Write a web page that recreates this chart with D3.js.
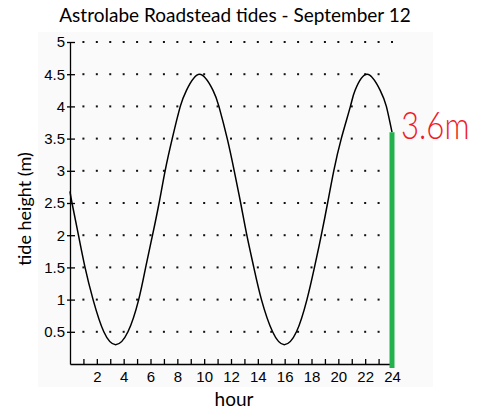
<!DOCTYPE html>
<html>
<head>
<meta charset="utf-8">
<script src="https://cdn.jsdelivr.net/npm/d3@7"></script>
<style>
  body { margin: 0; background: #fff; }
  svg { display: block; }
</style>
</head>
<body>
<div id="chart"></div>
<script>
// tide readings taken off the curve (hour, metres)
const hours = [0, 0.15, 0.63, 1.12, 1.72, 2.52, 3.4, 4.32, 5.12, 5.64, 6.15, 6.64, 7.09, 7.62, 8.22, 8.68, 9.65,
  10.66, 11.1, 11.72, 12.24, 12.72, 13.18, 13.7, 14.27, 15.1, 15.97, 16.88, 17.66, 18.22, 18.73,
  19.2, 19.66, 20.22, 20.9, 21.25, 22.14, 23.12, 23.58, 24];
const heights = [2.68, 2.5, 2.0, 1.5, 1.0, 0.5, 0.3, 0.5, 1.0, 1.5, 2.0, 2.5, 3.0, 3.5, 4.0, 4.25, 4.5,
  4.25, 4.0, 3.5, 3.0, 2.5, 2.0, 1.5, 1.0, 0.5, 0.3, 0.5, 1.0, 1.5, 2.0,
  2.5, 3.0, 3.5, 4.0, 4.25, 4.5, 4.25, 4.0, 3.6];
const xTicks = d3.range(1, 25);
const yTicks = [0.5, 1, 1.5, 2, 2.5, 3, 3.5, 4, 4.5, 5];
const endHeight = 3.6;
const endLabel = "3.6m";

const width = 477, height = 418;
const plotLeft = 70, plotRight = 392, plotTop = 42, plotBottom = 364;

const svg = d3.select("#chart").append("svg")
  .attr("width", width)
  .attr("height", height);

const x = d3.scaleLinear().domain([0, 24]).range([plotLeft, plotRight]);
const y = d3.scaleLinear().domain([0, 5]).range([plotBottom, plotTop]);

// faint backdrop of the original plot image
svg.append("rect")
  .attr("x", 38).attr("y", 32)
  .attr("width", 395).attr("height", 355)
  .attr("fill", "#fafafa");

svg.append("text")
  .attr("x", 235).attr("y", 22)
  .attr("text-anchor", "middle")
  .style("font-family", "Lato, 'Open Sans', sans-serif")
  .style("font-size", "19px")
  .text("Astrolabe Roadstead tides - September 12");

// dotted grid
const dots = [];
yTicks.forEach(v => {
  xTicks.forEach(h => {
    if (h < 24 || v === 5) dots.push([h, v]);
  });
});
svg.append("g")
  .selectAll("rect")
  .data(dots)
  .join("rect")
  .attr("x", d => x(d[0]) - 1)
  .attr("y", d => y(d[1]) - 1)
  .attr("width", 2)
  .attr("height", 2)
  .attr("fill", "#111");

// axes
const yAxis = d3.axisLeft(y)
  .tickValues(yTicks)
  .tickSize(-5)
  .tickSizeOuter(0)
  .tickPadding(5)
  .tickFormat(d3.format(""));

svg.append("g")
  .attr("transform", `translate(${plotLeft},0)`)
  .call(yAxis)
  .call(g => g.select(".domain").attr("stroke-width", 1.3))
  .call(g => g.selectAll(".tick line").attr("x1", -3).attr("stroke-width", 1.3))
  .call(g => g.selectAll("text").style("font-family", "'Liberation Sans', Arial, sans-serif").style("font-size", "15px").attr("fill", "#000"));

const xAxis = d3.axisBottom(x)
  .tickValues(xTicks)
  .tickSize(-5)
  .tickSizeOuter(0)
  .tickPadding(7)
  .tickFormat(d => d % 2 === 0 ? d : "");

svg.append("g")
  .attr("transform", `translate(0,${plotBottom})`)
  .call(xAxis)
  .call(g => g.select(".domain").attr("stroke-width", 1.3))
  .call(g => g.selectAll(".tick line").attr("stroke-width", 1.3))
  .call(g => g.selectAll("text").style("font-family", "'Liberation Sans', Arial, sans-serif").style("font-size", "15px").attr("fill", "#000"));

// axis titles
svg.append("text")
  .attr("transform", `translate(31,209) rotate(-90)`)
  .attr("text-anchor", "middle")
  .style("font-family", "Lato, 'Open Sans', sans-serif")
  .style("font-size", "18px")
  .text("tide height (m)");

svg.append("text")
  .attr("x", 234).attr("y", 406)
  .attr("text-anchor", "middle")
  .style("font-family", "Lato, 'Open Sans', sans-serif")
  .style("font-size", "19px")
  .text("hour");

// tide curve
const tide = hours.map((h, i) => [h, heights[i]]);
const line = d3.line()
  .x(d => x(d[0]))
  .y(d => y(d[1]))
  .curve(d3.curveNatural);

svg.append("path")
  .datum(tide)
  .attr("fill", "none")
  .attr("stroke", "#000")
  .attr("stroke-width", 1.5)
  .attr("d", line);

// green marker bar at hour 24
svg.append("line")
  .attr("x1", x(24)).attr("x2", x(24))
  .attr("y1", y(endHeight))
  .attr("y2", y(0) + 4)
  .attr("stroke", "#22b14c")
  .attr("stroke-width", 5);

svg.append("text")
  .attr("transform", "translate(401,139) scale(0.82,1)")
  .attr("fill", "#ed1c24")
  .style("font-family", "Lato, sans-serif")
  .style("font-weight", 300)
  .style("font-size", "38px")
  .text(endLabel);
</script>
</body>
</html>
